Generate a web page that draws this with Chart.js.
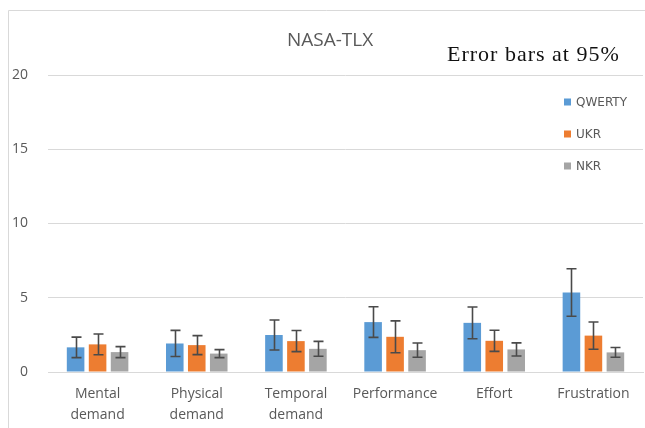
<!DOCTYPE html>
<html>
<head>
<meta charset="utf-8">
<title>NASA-TLX</title>
<script src="https://cdn.jsdelivr.net/npm/chart.js@4/dist/chart.umd.min.js"></script>
<style>
    html, body { margin: 0; padding: 0; background: #ffffff; }
    #tlxChart { display: block; }
</style>
</head>
<body>
<canvas id="tlxChart" width="645" height="428"></canvas>
<script>
// categories on the x axis
const categories = [['Mental', 'demand'], ['Physical', 'demand'], ['Temporal', 'demand'], 'Performance', 'Effort', 'Frustration'];
const seriesNames = ['QWERTY', 'UKR', 'NKR'];
const seriesColors = ['#5B9BD5', '#ED7D31', '#A5A5A5'];

// mean scores
const qwerty = [1.66, 1.92, 2.49, 3.36, 3.31, 5.35];
const ukr = [1.86, 1.81, 2.08, 2.37, 2.10, 2.45];
const nkr = [1.34, 1.24, 1.56, 1.47, 1.52, 1.32];

// 95% confidence half widths
const qwertyErr = [0.69, 0.88, 1.01, 1.03, 1.07, 1.60];
const ukrErr = [0.70, 0.64, 0.71, 1.07, 0.71, 0.92];
const nkrErr = [0.37, 0.27, 0.50, 0.48, 0.44, 0.33];

const yTicks = [0, 5, 10, 15, 20];

const allValues = [qwerty, ukr, nkr];
const allErrors = [qwertyErr, ukrErr, nkrErr];

const textGray = '#595959';
const lineGray = '#d9d9d9';

// frame + title + note + legend drawn on the canvas
const decorPlugin = {
    id: 'decor',
    beforeDraw(chart) {
        const c = chart.ctx;
        c.save();
        c.strokeStyle = lineGray;
        c.lineWidth = 1;
        c.beginPath();
        c.moveTo(8.5, 428);
        c.lineTo(8.5, 10.5);
        c.lineTo(645, 10.5);
        c.stroke();
        c.restore();
    },
    afterDraw(chart) {
        const c = chart.ctx;
        c.save();
        c.fillStyle = textGray;
        c.font = '19px "Open Sans"';
        c.textAlign = 'center';
        c.textBaseline = 'alphabetic';
        c.fillText('NASA-TLX', 330, 46);

        c.fillStyle = '#111111';
        c.font = '22px "Liberation Serif"';
        c.textAlign = 'left';
        c.letterSpacing = '1px';
        c.fillText('Error bars at 95%', 447, 61);
        c.letterSpacing = '0px';

        const rows = [102, 134, 166];
        c.font = '12px "DejaVu Sans"';
        c.textBaseline = 'middle';
        seriesNames.forEach((name, i) => {
            c.fillStyle = seriesColors[i];
            c.fillRect(564, rows[i] - 3.5, 7, 7);
            c.fillStyle = textGray;
            c.fillText(name, 576, rows[i] + 0.5);
        });
        c.restore();
    }
};

const errorBarPlugin = {
    id: 'errorBars',
    afterDatasetsDraw(chart) {
        const c = chart.ctx;
        const yScale = chart.scales.y;
        c.save();
        c.strokeStyle = '#4a4a4a';
        c.lineWidth = 1.6;
        chart.data.datasets.forEach((ds, i) => {
            const meta = chart.getDatasetMeta(i);
            meta.data.forEach((bar, j) => {
                const v = allValues[i][j];
                const e = allErrors[i][j];
                const top = yScale.getPixelForValue(v + e);
                const bot = yScale.getPixelForValue(v - e);
                const x = Math.round(bar.x) + 0.5;
                c.beginPath();
                c.moveTo(x, top);
                c.lineTo(x, bot);
                c.moveTo(x - 5, top);
                c.lineTo(x + 5, top);
                c.moveTo(x - 5, bot);
                c.lineTo(x + 5, bot);
                c.stroke();
            });
        });
        c.restore();
    }
};

const ctx = document.getElementById('tlxChart').getContext('2d');
const tlxChart = new Chart(ctx, {
    type: 'bar',
    data: {
        labels: categories,
        datasets: seriesNames.map((name, i) => ({
            label: name,
            data: allValues[i],
            backgroundColor: seriesColors[i],
            borderWidth: 0,
            categoryPercentage: 0.665,
            barPercentage: 0.8
        }))
    },
    options: {
        responsive: false,
        animation: false,
        devicePixelRatio: 1,
        layout: {
            padding: { top: 75, right: 2, left: 0, bottom: 0 }
        },
        scales: {
            y: {
                min: 0,
                max: 20,
                afterBuildTicks: (scale) => {
                    scale.ticks = yTicks.map(v => ({ value: v }));
                },
                afterFit: (scale) => { scale.width = 48; },
                ticks: {
                    padding: 20,
                    color: textGray,
                    font: { family: 'Open Sans', size: 14 }
                },
                grid: { color: lineGray, drawTicks: false },
                border: { display: false }
            },
            x: {
                afterFit: (scale) => { scale.height = 56; },
                ticks: {
                    padding: 12,
                    color: textGray,
                    maxRotation: 0,
                    font: { family: 'Open Sans', size: 14, lineHeight: 1.5 }
                },
                grid: { display: false, drawTicks: false },
                border: { color: lineGray }
            }
        },
        plugins: {
            legend: { display: false },
            title: { display: false },
            tooltip: { enabled: false }
        }
    },
    plugins: [decorPlugin, errorBarPlugin]
});
</script>
</body>
</html>
